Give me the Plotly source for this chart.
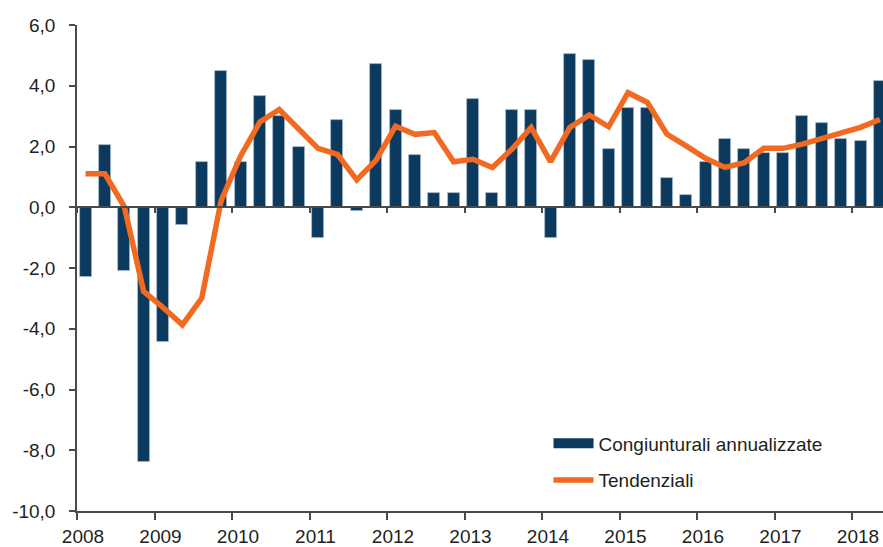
import plotly.graph_objects as go

# Quarterly data, 2008Q1 .. 2018Q2
start_year = 2008
congiunturali = [
    -2.30, 2.04, -2.10, -8.38,
    -4.43, -0.59, 1.50, 4.49,
    1.50, 3.67, 3.00, 1.98,
    -1.02, 2.87, -0.13, 4.71,
    3.21, 1.71, 0.48, 0.48,
    3.55, 0.48, 3.21, 3.21,
    -1.02, 5.05, 4.84, 1.91,
    3.27, 3.27, 0.95, 0.40,
    1.50, 2.25, 1.91, 1.77,
    1.77, 3.00, 2.79, 2.25,
    2.18, 4.16,
]
tendenziali = [
    1.10, 1.10, 0.02, -2.77,
    -3.30, -3.87, -2.99, 0.22,
    1.68, 2.81, 3.22, 2.58,
    1.94, 1.74, 0.90, 1.55,
    2.67, 2.40, 2.46, 1.50,
    1.58, 1.31, 1.91, 2.63,
    1.50, 2.63, 3.04, 2.65,
    3.77, 3.45, 2.41, 2.02,
    1.61, 1.31, 1.47, 1.94,
    1.94, 2.08, 2.27, 2.48,
    2.63, 2.89,
]
year_ticks = list(range(2008, 2019))
year_labels = [str(y) for y in year_ticks]
y_ticks = [-10, -8, -6, -4, -2, 0, 2, 4, 6]
y_labels = ["-10,0", "-8,0", "-6,0", "-4,0", "-2,0", "0,0", "2,0", "4,0", "6,0"]

name_bar = "Congiunturali annualizzate"
name_line = "Tendenziali"

BAR = "#0B3A5E"
ORANGE = "#F26A21"
TEXT = "#231F20"
AXIS = "#4a4a4a"
FONT = "Liberation Sans, Arial, sans-serif"

x = [start_year + 0.25 * i + 0.11 for i in range(len(congiunturali))]

fig = go.Figure()
fig.add_trace(go.Bar(
    x=x, y=congiunturali, width=0.155, name=name_bar, showlegend=False,
    marker=dict(color=BAR, line=dict(color="#a9bccd", width=0.8)),
))
# legend entry for bars (wide rectangle symbol)
fig.add_trace(go.Scatter(
    x=[None], y=[None], mode="lines", name=name_bar, legendgroup="a",
    line=dict(color=BAR, width=10),
))
fig.add_trace(go.Scatter(
    x=x, y=tendenziali, mode="lines", name=name_line, legendgroup="b",
    line=dict(color=ORANGE, width=5.5, shape="linear"),
))

fig.update_layout(
    width=883, height=547,
    margin=dict(l=77, r=0, t=25, b=36),
    paper_bgcolor="white", plot_bgcolor="white",
    font=dict(family=FONT, size=19, color=TEXT),
    showlegend=True,
    legend=dict(
        x=0.585, y=0.178, xanchor="left", yanchor="top",
        bgcolor="rgba(0,0,0,0)", traceorder="grouped", tracegroupgap=9,
        itemwidth=40,
        font=dict(family=FONT, size=19, color=TEXT),
    ),
    bargap=0,
    xaxis=dict(
        range=[2008, 2018.40], tickmode="array", tickvals=year_ticks,
        ticktext=year_labels, showgrid=False, zeroline=False,
        showline=True, linecolor=AXIS, linewidth=1.5,
        ticks="outside", ticklen=7, tickwidth=1.5, tickcolor=AXIS,
        ticklabelshift=6,
    ),
    xaxis2=dict(
        range=[2008, 2018.40], overlaying="x", anchor="free", position=0.625,
        side="bottom", tickmode="array", tickvals=year_ticks,
        showticklabels=False, showgrid=False, zeroline=False,
        showline=True, linecolor=AXIS, linewidth=1.5,
        ticks="outside", ticklen=5, tickwidth=1.5, tickcolor=AXIS,
    ),
    yaxis=dict(
        range=[-10, 6], tickmode="array", tickvals=y_ticks, ticktext=y_labels,
        showgrid=False, zeroline=False, showline=True, linecolor=AXIS,
        linewidth=1.5, ticks="outside", ticklen=6, tickwidth=1.5,
        tickcolor=AXIS, ticklabelstandoff=10,
    ),
)
# invisible trace to activate xaxis2
fig.add_trace(go.Scatter(x=[2008], y=[0], xaxis="x2", mode="markers",
                         marker=dict(opacity=0), showlegend=False, hoverinfo="skip"))

fig.write_html("out.html", config={"displayModeBar": False},
               post_script="document.body.style.margin='0';")
